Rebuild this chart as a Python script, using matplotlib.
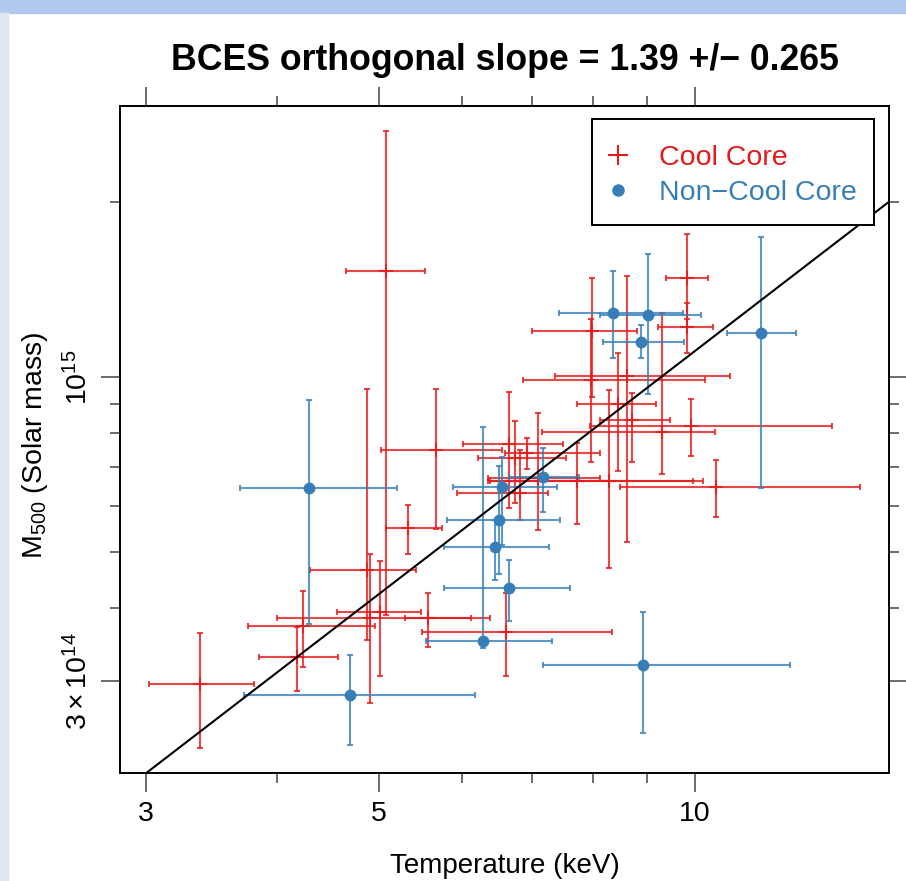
import numpy as np
import matplotlib.pyplot as plt
from matplotlib.patches import Rectangle
from matplotlib.ticker import FixedLocator, FixedFormatter, NullFormatter

plt.rcParams['font.family'] = ['Liberation Sans', 'DejaVu Sans']
plt.rcParams['mathtext.fontset'] = 'custom'
plt.rcParams['mathtext.rm'] = 'Liberation Sans'
plt.rcParams['mathtext.it'] = 'Liberation Sans:italic'
plt.rcParams['mathtext.bf'] = 'Liberation Sans:bold'

red = '#e41a1c'
blue = '#377eb8'

# cool core clusters: T in keV, M500 in 1e14 solar masses (value, lower, upper)
cc_T    = [3.38, 5.08, 5.33, 5.67, 4.87, 4.90, 5.01, 4.23, 4.18, 5.57, 6.61, 6.65, 6.74, 6.92,
           7.09, 7.72, 6.81, 7.98, 9.82, 9.82, 8.61, 7.96, 9.30, 9.91, 10.47, 8.28, 8.45, 8.71]
cc_T_lo = [3.02, 4.65, 5.08, 5.02, 4.30, 4.00, 4.56, 3.75, 3.84, 5.29, 5.50, 6.01, 6.21, 6.59,
           6.35, 6.38, 5.93, 6.99, 9.38, 9.22, 7.36, 6.86, 7.15, 7.94, 8.48, 6.35, 7.72, 8.12]
cc_T_hi = [3.80, 5.53, 5.74, 6.55, 5.42, 6.38, 5.48, 4.96, 4.57, 6.12, 8.34, 7.49, 7.54, 8.12,
           8.12, 10.18, 7.24, 8.80, 10.29, 10.40, 10.80, 10.22, 10.44, 13.50, 14.36, 9.95, 9.18, 9.46]
cc_M    = [2.96, 15.2, 5.50, 7.49, 4.65, 3.85, 3.94, 3.73, 3.30, 3.85, 3.64, 7.67, 7.25, 7.40,
           6.70, 6.62, 6.31, 12.0, 14.8, 12.2, 10.04, 9.88, 8.04, 8.24, 6.47, 6.62, 8.98, 8.43]
cc_M_lo = [2.30, 3.89, 4.96, 5.47, 3.53, 2.75, 3.06, 3.17, 2.88, 3.43, 3.06, 5.95, 6.07, 6.95,
           5.45, 5.58, 5.67, 9.24, 12.6, 11.0, 5.20, 7.14, 6.81, 7.31, 5.74, 4.69, 6.89, 7.14]
cc_M_hi = [3.63, 26.5, 6.02, 9.54, 9.54, 4.96, 4.82, 4.28, 3.71, 4.25, 4.25, 9.42, 8.40, 7.85,
           8.67, 7.70, 7.49, 14.8, 17.6, 13.4, 14.9, 12.6, 12.9, 9.17, 7.20, 9.50, 11.0, 9.39]

# non-cool core clusters
ncc_T    = [4.29, 4.69, 6.28, 6.65, 6.45, 6.51, 6.55, 7.16, 8.35, 9.02, 8.88, 11.56, 8.92]
ncc_T_lo = [3.69, 3.72, 5.54, 5.77, 5.77, 5.80, 5.88, 6.65, 7.42, 8.12, 8.17, 10.72, 7.16]
ncc_T_hi = [5.20, 6.17, 7.31, 7.60, 7.26, 7.44, 7.39, 7.75, 9.74, 10.13, 9.76, 12.48, 12.31]
ncc_M    = [6.44, 2.84, 3.51, 4.33, 5.10, 5.67, 6.47, 6.73, 12.9, 12.8, 11.5, 11.9, 3.19]
ncc_M_lo = [3.76, 2.33, 3.42, 3.80, 4.47, 4.58, 5.14, 5.86, 10.8, 9.35, 10.8, 6.44, 2.44]
ncc_M_hi = [9.13, 3.32, 8.20, 4.84, 5.67, 7.03, 7.28, 7.55, 15.2, 16.3, 12.3, 17.4, 3.94]

# BCES fit line
slope = 1.39
pivot_T = 3.0
pivot_M = 2.08e14

legend_labels = ['Cool Core', 'Non\u2212Cool Core']


def bars(v, lo, hi):
    v, lo, hi = np.array(v), np.array(lo), np.array(hi)
    return v, np.vstack([v - lo, hi - v])


W, H = 906, 881
fig = plt.figure(figsize=(W / 100, H / 100), dpi=100)
fig.patches.append(Rectangle((0, 1 - 13 / H), 1, 13 / H, transform=fig.transFigure,
                             color='#b1c9ec', zorder=0))
fig.patches.append(Rectangle((0, 0), 8 / W, 1 - 13 / H, transform=fig.transFigure,
                             color='#dfe6f1', zorder=0))

ax = fig.add_axes([120 / W, 1 - 773 / H, 769 / W, 667 / H])
ax.set_xscale('log')
ax.set_yscale('log')

T, T_err = bars(cc_T, cc_T_lo, cc_T_hi)
M, M_err = bars(cc_M, cc_M_lo, cc_M_hi)
ax.errorbar(T, M * 1e14, xerr=T_err, yerr=M_err * 1e14, fmt='+', color=red, ms=10, mew=1.5,
            elinewidth=1.5, capsize=2.2, capthick=1.5, alpha=0.8, zorder=2)

T, T_err = bars(ncc_T, ncc_T_lo, ncc_T_hi)
M, M_err = bars(ncc_M, ncc_M_lo, ncc_M_hi)
ax.errorbar(T, M * 1e14, xerr=T_err, yerr=M_err * 1e14, fmt='none', ecolor=blue,
            elinewidth=1.5, capsize=2.2, capthick=1.5, alpha=0.8, zorder=3)
ax.plot(T, M * 1e14, 'o', color=blue, ms=7.5, zorder=4)

ax.set_xlim(2.834, 15.30)
ax.set_ylim(2.082e14, 2.927e15)

tl = np.array([pivot_T, 15.30])
ax.plot(tl, pivot_M * (tl / pivot_T) ** slope, color='black', lw=1.5, zorder=5)

ax.xaxis.set_major_locator(FixedLocator([3, 5, 10]))
ax.xaxis.set_major_formatter(FixedFormatter(['3', '5', '10']))
ax.xaxis.set_minor_locator(FixedLocator([4, 6, 7, 8, 9]))
ax.xaxis.set_minor_formatter(NullFormatter())
ax.yaxis.set_major_locator(FixedLocator([3e14, 1e15]))
ax.yaxis.set_major_formatter(FixedFormatter([r'$3\times10^{14}$', r'$10^{15}$']))
ax.yaxis.set_minor_locator(FixedLocator([4e14, 5e14, 6e14, 7e14, 8e14, 9e14, 2e15]))
ax.yaxis.set_minor_formatter(NullFormatter())

ax.tick_params(which='both', direction='out', top=True, right=True, color='#444444', width=1.1)
ax.tick_params(which='major', length=13.5, labelsize=20.5)
ax.tick_params(which='minor', length=7)
ax.tick_params(axis='x', which='major', pad=7)
ax.tick_params(axis='y', which='major', pad=6)
for lab in ax.get_yticklabels():
    lab.set_rotation(90)
    lab.set_va('center')
for s in ax.spines.values():
    s.set_linewidth(1.4)


# legend drawn by hand, placed in pixel units of the axes box
def ax_xy(px, py):
    return (px - 120) / 769, (773 - py) / 667


x0, y0 = ax_xy(592, 225)
x1, y1 = ax_xy(874, 119)
ax.add_patch(Rectangle((x0, y0), x1 - x0, y1 - y0, transform=ax.transAxes, facecolor='white',
                       edgecolor='black', lw=1.4, zorder=10))
ax.plot(*ax_xy(618, 155), marker='+', ms=15, mew=1.5, color=red, transform=ax.transAxes,
        zorder=11)
ax.plot(*ax_xy(618, 190), marker='o', ms=8, color=blue, transform=ax.transAxes, zorder=11)
ax.text(*ax_xy(659, 165), legend_labels[0], color=red, fontsize=20.5, va='baseline',
        transform=ax.transAxes, zorder=11)
ax.text(*ax_xy(659, 200), legend_labels[1], color=blue, fontsize=20.5, va='baseline',
        transform=ax.transAxes, zorder=11)

fig.text(505 / W, 1 - 60 / H, 'BCES orthogonal slope = 1.39 +/\u2212 0.265',
         fontsize=25.7, fontweight='bold', ha='center', va='center')
fig.text(505 / W, 1 - 866 / H, 'Temperature (keV)', fontsize=20, ha='center', va='center')
fig.text(35 / W, 1 - 445 / H, r'M$_{500}$ (Solar mass)', fontsize=20.5, rotation=90,
         ha='center', va='center')

fig.savefig('out.png', dpi=100)
